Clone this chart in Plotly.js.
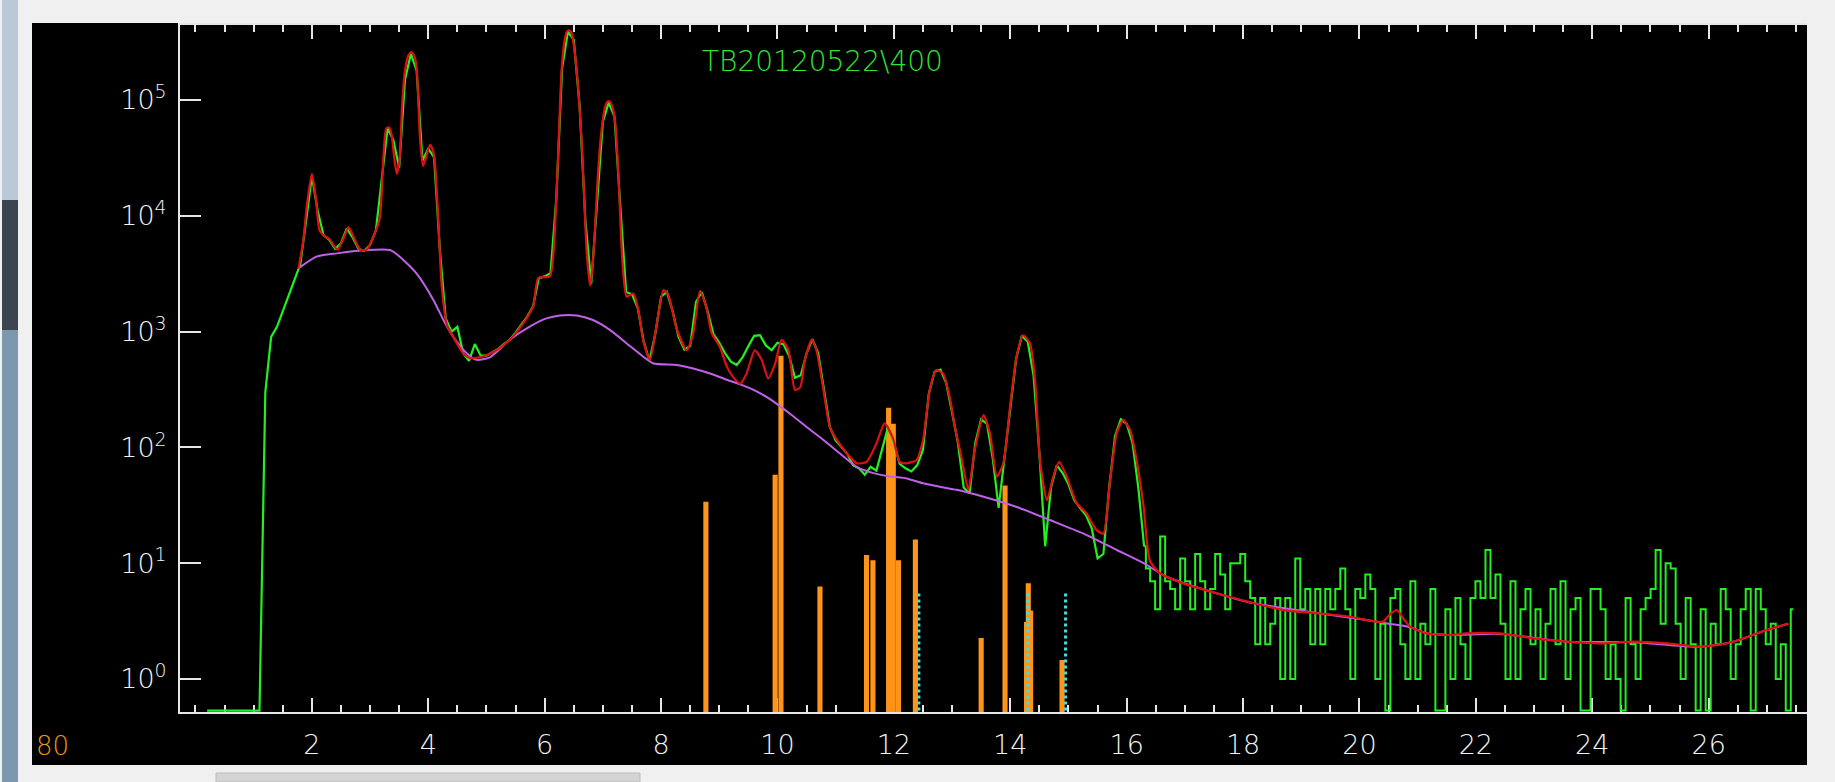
<!DOCTYPE html>
<html><head><meta charset="utf-8">
<script src="https://cdn.plot.ly/plotly-3.0.1.min.js"></script>
<style>html,body{margin:0;padding:0;background:#f0f0f0;overflow:hidden}#chart{width:1835px;height:782px}</style>
</head><body><div id="chart"></div>
<script>
// ---- tick labels ----
const xTickVals = [2,4,6,8,10,12,14,16,18,20,22,24,26];
const xTickLabels = ['2','4','6','8','10','12','14','16','18','20','22','24','26'];
const yTickExp = [0,1,2,3,4,5];

// ---- measured spectrum (green), channels 0.2..16.3 keV every 0.1 keV ----
const greenLowStart = 0.2, greenLowStep = 0.1;
const greenLow = [
 0,0,0,0,0,0,0,0,0,0,
 300,900,1100,1500,2100,2900,3800,9000,22000,11000,
 6800,6200,5200,5800,7800,6500,5200,5000,5600,7500,
 20000,57000,45000,26000,150000,250000,180000,30000,38000,32000,
 5000,1300,1000,1100,650,560,780,620,620,660,
 710,780,850,980,1150,1350,1650,2900,3000,3200,
 14000,190000,390000,330000,90000,9000,2600,14000,65000,95000,
 72000,12000,2200,2100,1600,830,560,950,2000,2200,
 1500,900,700,750,1800,2200,1500,950,800,650,
 550,515,600,750,920,930,760,690,800,780,
 620,400,420,650,860,650,300,150,115,100,
 88,70,66,58,68,63,100,150,110,72,
 66,62,70,95,290,450,470,360,200,110,
 45,40,110,175,160,80,30,80,230,580,
 920,820,420,90,14,45,70,60,48,35,
 30,26,20,11,12,45,125,175,160,110,
 45,14
];
// ---- measured spectrum (green), noisy tail from 16.36 keV every 0.086 keV ----
const greenHighStart = 16.36, greenHighStep = 0.086;
const greenHigh = [
 9,7,4,17,7,6,4,11,7,4,
 12,7,4,6,12,8,4,10,10,12,
 7,5,2,5,2,3,5,1,5,1,
 11,4,6,2,6,2,6,4,6,9,
 4,1,6,5,8,6,1,3,0,5,
 6,2,1,7,1,3,2,6,0,0,
 4,1,5,2,1,5,7,5,13,5,
 8,3,1,7,1,4,6,2,4,1,
 3,6,2,7,1,4,5,0,0,6,
 6,4,1,2,1,0,5,2,1,4,
 5,6,13,3,10,9,3,1,5,2,
 0,4,0,3,2,6,4,1,2,4,
 6,0,6,4,2,3,1,2,0,4
];

// ---- fit (red) [keV, counts] ----
const redFit = [
 [1.77,3500],[1.85,6000],[1.92,13000],[2.0,23000],[2.07,14000],[2.13,7500],[2.2,6800],[2.3,6300],[2.44,5100],[2.55,6500],
 [2.63,8000],[2.72,6500],[2.83,5100],[2.94,5100],[3.08,7000],[3.17,9800],[3.23,33000],[3.28,57000],[3.33,58000],[3.37,50000],
 [3.42,30000],[3.46,23000],[3.51,32000],[3.55,90000],[3.6,180000],[3.66,245000],[3.71,260000],[3.76,240000],[3.8,190000],[3.86,45000],
 [3.91,27000],[3.97,33000],[4.03,41000],[4.07,38000],[4.11,30000],[4.17,9500],[4.23,2500],[4.32,1150],[4.43,900],[4.6,650],
 [4.72,590],[4.94,610],[5.17,690],[5.4,850],[5.63,1180],[5.8,1640],[5.89,2900],[6.09,3000],[6.15,4700],[6.21,18000],
 [6.25,60000],[6.29,180000],[6.34,320000],[6.38,390000],[6.42,400000],[6.46,380000],[6.5,300000],[6.55,180000],[6.6,85000],[6.64,40000],
 [6.68,14000],[6.72,5000],[6.78,2500],[6.82,3500],[6.86,7000],[6.9,17000],[6.95,40000],[7.0,68000],[7.04,88000],[7.08,97000],
 [7.12,97000],[7.17,85000],[7.21,65000],[7.27,21000],[7.31,7000],[7.35,3200],[7.41,2000],[7.52,2130],[7.61,1540],[7.69,850],
 [7.81,570],[7.92,1110],[8.04,2280],[8.12,2100],[8.27,1050],[8.44,690],[8.55,950],[8.67,2250],[8.78,1600],[8.87,970],
 [9.01,740],[9.13,500],[9.24,405],[9.36,356],[9.47,435],[9.61,690],[9.73,570],[9.84,395],[9.96,530],[10.07,850],
 [10.19,690],[10.3,315],[10.39,330],[10.47,570],[10.59,850],[10.67,690],[10.79,315],[10.9,150],[11.02,116],[11.19,89],
 [11.36,73],[11.53,75],[11.7,108],[11.84,161],[11.99,118],[12.1,75],[12.22,73],[12.39,78],[12.5,115],[12.62,320],
 [12.73,465],[12.85,430],[12.96,270],[13.05,150],[13.17,78],[13.28,43],[13.39,95],[13.54,190],[13.65,133],[13.77,56],
 [13.88,73],[13.99,210],[14.11,610],[14.22,930],[14.34,790],[14.43,356],[14.51,78],[14.63,35],[14.74,56],[14.84,75],
 [14.97,56],[15.14,33],[15.31,27],[15.48,19.4],[15.6,18],[15.71,49],[15.83,133],[15.94,172],[16.06,141],[16.17,78],
 [16.29,31],[16.4,10.5],[16.57,8.2],[16.97,6.7],[17.55,5.5],[18.12,4.6],[18.69,3.94],[19.26,3.7],[19.84,3.45],[20.12,3.23],
 [20.4,3.12],[20.52,3.6],[20.64,3.94],[20.76,3.3],[20.87,2.83],[21.15,2.48],[21.56,2.4],[21.84,2.48],[22.41,2.48],[22.99,2.24],
 [23.56,2.1],[24.13,2.03],[24.71,2.1],[25.28,2.03],[25.85,1.9],[26.14,1.97],[26.42,2.1],[27.0,2.65],[27.37,3.0]
];

// ---- continuum background (purple) [keV, counts] ----
const background = [
 [1.77,3520],[2.08,4440],[2.43,4740],[2.94,5070],[3.34,5070],[3.51,4440],[3.8,3170],[4.09,1870],[4.26,1260],[4.43,900],
 [4.66,650],[4.83,570],[5.06,600],[5.4,850],[5.75,1110],[6.03,1300],[6.26,1380],[6.55,1380],[6.83,1260],[7.12,1035],
 [7.41,790],[7.69,610],[7.87,530],[8.27,515],[8.55,480],[8.84,435],[9.13,384],[9.36,350],[9.64,305],[9.93,250],
 [10.21,196],[10.5,150],[10.79,116],[11.07,89],[11.36,68],[11.65,60],[11.93,56],[12.22,54],[12.5,49],[12.79,45.7],
 [13.08,43],[13.54,37.5],[14.11,30.6],[14.68,23.6],[15.25,18.1],[15.83,13],[16.29,10],[16.69,7.6],[17.0,6.7],[18.1,4.6],
 [19.3,3.7],[20.12,3.23],[20.5,3.0],[20.87,2.8],[21.15,2.48],[21.56,2.4],[22.41,2.45],[23.56,2.1],[24.71,2.08],[25.85,1.9],
 [26.42,2.1],[27.0,2.65],[27.37,3.0]
];

// ---- line markers (orange) ----
const markerKeV    = [8.77, 9.96, 10.06, 10.73, 11.53, 11.64, 11.91, 11.99, 12.08, 12.37, 13.5, 13.91, 14.28, 14.31, 14.35, 14.89];
const markerHeight = [34,   58,   620,   6.3,   11.8,  10.6,  220,   160,   10.6,  16,    2.26, 47,    3.1,   6.7,   3.9,   1.46];

// ---- escape / sum markers (cyan dotted) ----
const cyanKeV    = [12.43, 14.3, 14.95];
const cyanHeight = [5.6, 5.6, 5.5];

// ---- layout constants ----
const yRangeLog = [-0.285, 5.648];
const xRange = [-0.266, 27.69];
const floorVal = Math.pow(10, yRangeLog[0] + 0.012);
const FONT = 'DejaVu Sans, Noto Sans, sans-serif';
const W = 1835, H = 782, ML = 180, MR = 28, MT = 25, MB = 70;
const PW = W - ML - MR, PH = H - MT - MB;
const px2x = p => (p - ML) / PW;
const py2y = p => (H - MB - p) / PH;

// build green series
const gxLo = [], gyLo = [], gxHi = [], gyHi = [];
greenLow.forEach((v, i) => { gxLo.push(+(greenLowStart + greenLowStep * i).toFixed(3)); gyLo.push(v > 0 ? v : floorVal); });
// join the low segment onto the tail
gxHi.push(gxLo[gxLo.length - 1]); gyHi.push(gyLo[gyLo.length - 1]);
greenHigh.forEach((v, i) => { gxHi.push(+(greenHighStart + greenHighStep * i).toFixed(3)); gyHi.push(v > 0 ? v : floorVal); });

const cx = [], cy = [];
cyanKeV.forEach((k, i) => { cx.push(k, k, null); cy.push(floorVal, cyanHeight[i], null); });

const GREEN = '#22f022';
const traces = [
  {x: gxLo, y: gyLo, type: 'scatter', mode: 'lines', line: {color: GREEN, width: 2.2, shape: 'linear'}, hoverinfo: 'skip'},
  {x: gxHi, y: gyHi, type: 'scatter', mode: 'lines', line: {color: GREEN, width: 2, shape: 'hvh'}, hoverinfo: 'skip'},
  {x: background.map(p => p[0]), y: background.map(p => p[1]), type: 'scatter', mode: 'lines',
   line: {color: '#c060e8', width: 2, shape: 'spline', smoothing: 0.6}, hoverinfo: 'skip'},
  {x: redFit.map(p => p[0]), y: redFit.map(p => p[1]), type: 'scatter', mode: 'lines',
   line: {color: '#e01010', width: 2.2, shape: 'spline', smoothing: 0.6}, hoverinfo: 'skip'},
  {x: markerKeV, y: markerHeight, type: 'bar', width: 0.088, marker: {color: '#ff9418', line: {width: 0}}, hoverinfo: 'skip'},
  {x: cx, y: cy, type: 'scatter', mode: 'lines', line: {color: '#44dddd', width: 3, dash: 'dot'}, hoverinfo: 'skip'}
];

const axisCol = '#e6e6e6';
const layout = {
  width: W, height: H,
  margin: {l: ML, r: MR, t: MT, b: MB, pad: 0},
  paper_bgcolor: '#f0f0f0',
  plot_bgcolor: '#000000',
  showlegend: false,
  xaxis: {
    range: xRange, showgrid: false, zeroline: false,
    showline: true, linecolor: axisCol, linewidth: 2, mirror: 'ticks',
    ticks: 'inside', ticklen: 14, tickwidth: 2, tickcolor: axisCol,
    tickmode: 'array', tickvals: xTickVals, ticktext: xTickLabels,
    ticklabelstandoff: 8,
    minor: {tickmode: 'linear', tick0: 0, dtick: 0.5, ticks: 'inside', ticklen: 7, tickwidth: 2, tickcolor: axisCol, showgrid: false},
    tickfont: {family: FONT, size: 27, color: '#f4f4f4', weight: 200},
    layer: 'below traces', fixedrange: true
  },
  yaxis: {
    type: 'log', range: yRangeLog, showgrid: false, zeroline: false,
    showline: true, linecolor: axisCol, linewidth: 2,
    ticks: 'inside', ticklen: 21, tickwidth: 2, tickcolor: axisCol,
    tickmode: 'array', tickvals: yTickExp.map(e => Math.pow(10, e)), ticktext: yTickExp.map(e => '10<sup>' + e + '</sup>'),
    ticklabelstandoff: 6,
    tickfont: {family: FONT, size: 27, color: '#f4f4f4', weight: 200},
    layer: 'below traces', fixedrange: true
  },
  shapes: [
    {type: 'rect', xref: 'paper', yref: 'paper', x0: px2x(32), x1: px2x(1807), y0: py2y(765), y1: py2y(23),
     fillcolor: '#000000', line: {width: 0}, layer: 'below'},
    {type: 'rect', xref: 'paper', yref: 'paper', x0: px2x(2), x1: px2x(18), y0: py2y(200), y1: py2y(0),
     fillcolor: '#b9c9d5', line: {width: 0}, layer: 'below'},
    {type: 'rect', xref: 'paper', yref: 'paper', x0: px2x(2), x1: px2x(18), y0: py2y(330), y1: py2y(200),
     fillcolor: '#3b4450', line: {width: 0}, layer: 'below'},
    {type: 'rect', xref: 'paper', yref: 'paper', x0: px2x(2), x1: px2x(18), y0: py2y(782), y1: py2y(330),
     fillcolor: '#7d98ae', line: {width: 0}, layer: 'below'},
    {type: 'rect', xref: 'paper', yref: 'paper', x0: px2x(216), x1: px2x(640), y0: py2y(782), y1: py2y(773),
     fillcolor: '#d4d4d4', line: {width: 1, color: '#bdbdbd'}, layer: 'below'}
  ],
  annotations: [
    {text: 'TB20120522\\400', xref: 'paper', yref: 'paper', x: px2x(700), y: py2y(61),
     xanchor: 'left', yanchor: 'middle', showarrow: false,
     font: {family: FONT, size: 28, color: '#2ee62e', weight: 200}},
    {text: '80', xref: 'paper', yref: 'paper', x: px2x(34), y: py2y(746),
     xanchor: 'left', yanchor: 'middle', showarrow: false,
     font: {family: FONT, size: 26, color: '#f0961e', weight: 200}}
  ]
};

Plotly.newPlot('chart', traces, layout, {staticPlot: true, displayModeBar: false});
</script></body></html>
